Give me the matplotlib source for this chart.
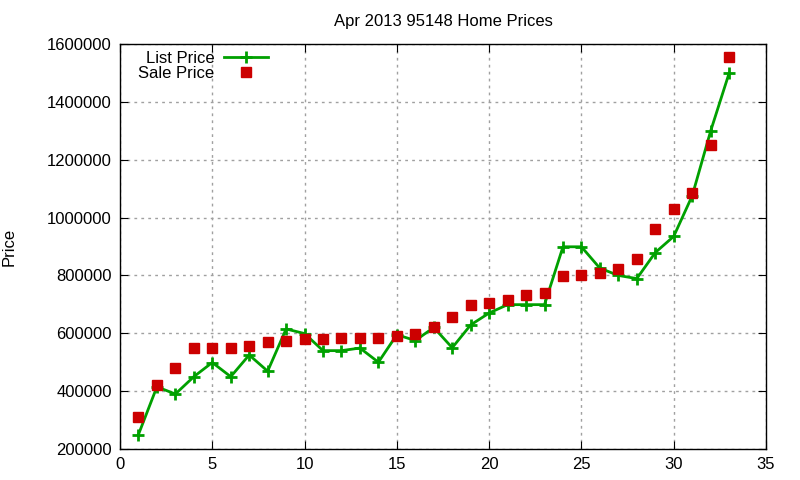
import numpy as np
import matplotlib
matplotlib.use("Agg")
import matplotlib.pyplot as plt

plt.rcParams['font.family'] = ['Liberation Sans', 'DejaVu Sans']

days = list(range(1, 34))

list_price = [250000, 415000, 390000, 450000, 499000, 450000, 525000, 469000,
              615000, 599000, 540000, 540000, 549000, 500000, 595000, 575000,
              620000, 550000, 629000, 670000, 699000, 699000, 699000, 899000,
              899000, 825000, 800000, 789000, 879000, 935000, 1075000, 1299000,
              1499000]

sale_price = [310000, 420000, 480000, 550000, 550000, 550000, 556000, 570000,
              575000, 580000, 580000, 585000, 585000, 585000, 591000, 598000,
              620000, 656000, 698000, 705000, 715000, 732000, 740000, 798000,
              800000, 808000, 822000, 857000, 960000, 1030000, 1085000, 1250000,
              1555000]


def make_chart():

    fig = plt.figure(figsize=(8, 4.8), dpi=100)
    ax = fig.add_axes([0.15, 0.0646, 0.8075, 0.8437])

    ax.plot(days, list_price, color='#00a000', linewidth=2, marker='+',
            markersize=9, markeredgewidth=2, label='List Price')
    ax.plot(days, sale_price, linestyle='none', marker='s', color='#cc0000',
            markersize=7, label='Sale Price')

    ax.set_xlim(0, 35)
    ax.set_ylim(200000, 1600000)
    ax.set_xticks(range(0, 36, 5))
    ax.set_yticks(range(200000, 1600001, 200000))
    ax.ticklabel_format(style='plain', axis='y', useOffset=False)

    ax.grid(True, color='#a0a0a0', linestyle=(0, (2, 3)), linewidth=1)
    ax.tick_params(direction='in', top=True, right=True, length=6,
                   labelsize=12, pad=6)
    for s in ax.spines.values():
        s.set_linewidth(1)

    ax.set_title('Apr 2013 95148 Home Prices', fontsize=12, pad=13)
    ax.set_ylabel('Price', fontsize=12, labelpad=22)

    ax.legend(loc='upper left', bbox_to_anchor=(0.01, 1.012), frameon=False,
              markerfirst=False, fontsize=12, handlelength=2.6,
              labelspacing=0.0, borderpad=0.2, handletextpad=0.6)

    fig.savefig('out.png', dpi=100)
    plt.close(fig)


if __name__ == "__main__":

    make_chart()
